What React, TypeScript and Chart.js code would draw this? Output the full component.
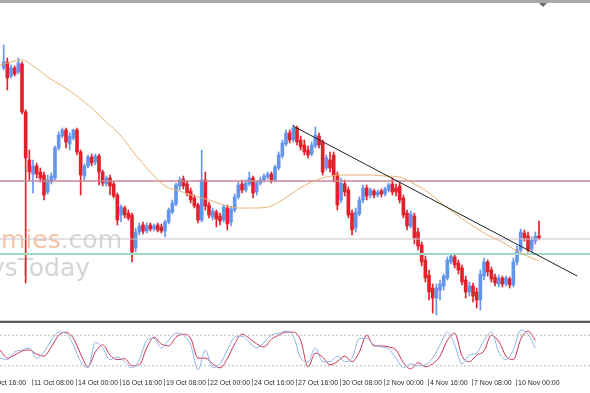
import React, { useEffect, useRef } from "react";
import { Chart, registerables } from "chart.js";

Chart.register(...registerables);

// ---------- DATA ----------
// time-axis tick labels and the bar index each one sits at
const timeLabels = [
  "8 Oct 16:00", "11 Oct 08:00", "14 Oct 00:00", "16 Oct 16:00", "19 Oct 08:00",
  "22 Oct 00:00", "24 Oct 16:00", "27 Oct 16:00", "30 Oct 08:00", "2 Nov 00:00",
  "4 Nov 16:00", "7 Nov 08:00", "10 Nov 00:00",
];
const timeLabelIdx = [-4, 8, 20, 32, 44, 56, 68, 80, 92, 104, 116, 128, 140];

// candle prices, in 1/10000 (e.g. 13236 = 1.3236)
const openPts = [
  13236, 13242, 13228, 13236, 13232, 13240, 13192, 13144, 13130, 13138,
  13132, 13129, 13112, 13122, 13126, 13156, 13168, 13174, 13160, 13166,
  13174, 13152, 13128, 13138, 13147, 13142, 13148, 13132, 13120, 13126,
  13120, 13109, 13089, 13096, 13091, 13089, 13056, 13072, 13079, 13073,
  13079, 13075, 13079, 13077, 13073, 13082, 13092, 13100, 13118, 13125,
  13120, 13113, 13106, 13099, 13084, 13124, 13099, 13087, 13092, 13088,
  13084, 13096, 13082, 13094, 13107, 13120, 13114, 13120, 13126, 13112,
  13121, 13124, 13127, 13130, 13124, 13136, 13148, 13160, 13171, 13164,
  13176, 13164, 13159, 13154, 13150, 13158, 13168, 13162, 13136, 13144,
  13149, 13129, 13104, 13120, 13114, 13091, 13076, 13090, 13104, 13116,
  13109, 13113, 13109, 13113, 13110, 13114, 13120, 13116, 13118, 13106,
  13091, 13078, 13088, 13072, 13059, 13044, 13029, 13016, 13006, 13014,
  13018, 13026, 13042, 13047, 13041, 13036, 13024, 13012, 13018, 13012,
  13004, 13028, 13042, 13034, 13027, 13020, 13026, 13020, 13025, 13019,
  13042, 13054, 13071, 13068, 13055, 13063, 13068,
];
const highPts = [
  13259, 13246, 13239, 13238, 13246, 13242, 13194, 13154, 13144, 13141,
  13136, 13132, 13129, 13131, 13158, 13172, 13176, 13176, 13171, 13175,
  13176, 13154, 13140, 13149, 13150, 13150, 13150, 13134, 13128, 13129,
  13122, 13111, 13099, 13098, 13094, 13091, 13076, 13081, 13082, 13081,
  13081, 13080, 13081, 13080, 13084, 13096, 13104, 13121, 13127, 13128,
  13123, 13116, 13109, 13101, 13154, 13132, 13102, 13096, 13094, 13091,
  13099, 13099, 13098, 13110, 13122, 13124, 13124, 13132, 13128, 13123,
  13127, 13130, 13132, 13132, 13139, 13152, 13164, 13174, 13174, 13179,
  13178, 13168, 13164, 13158, 13162, 13177, 13171, 13164, 13149, 13152,
  13152, 13132, 13126, 13124, 13117, 13094, 13096, 13107, 13119, 13119,
  13116, 13115, 13114, 13115, 13117, 13121, 13126, 13120, 13121, 13109,
  13094, 13093, 13091, 13076, 13062, 13048, 13034, 13020, 13020, 13024,
  13030, 13047, 13050, 13050, 13044, 13039, 13028, 13022, 13021, 13016,
  13034, 13046, 13044, 13037, 13030, 13029, 13028, 13028, 13027, 13046,
  13058, 13075, 13074, 13072, 13067, 13072, 13083,
];
const lowPts = [
  13234, 13214, 13226, 13228, 13230, 13190, 13021, 13124, 13111, 13126,
  13122, 13104, 13110, 13120, 13124, 13154, 13166, 13156, 13154, 13164,
  13149, 13109, 13124, 13136, 13138, 13139, 13119, 13118, 13118, 13109,
  13106, 13079, 13082, 13086, 13084, 13042, 13052, 13069, 13070, 13071,
  13073, 13073, 13072, 13071, 13067, 13080, 13090, 13098, 13114, 13115,
  13108, 13101, 13096, 13081, 13082, 13094, 13086, 13084, 13077, 13079,
  13082, 13074, 13078, 13092, 13105, 13111, 13112, 13118, 13106, 13109,
  13119, 13122, 13125, 13121, 13122, 13134, 13146, 13158, 13161, 13162,
  13159, 13154, 13149, 13146, 13148, 13156, 13156, 13129, 13134, 13132,
  13122, 13094, 13101, 13108, 13086, 13069, 13072, 13088, 13101, 13104,
  13106, 13106, 13107, 13107, 13108, 13112, 13109, 13108, 13101, 13086,
  13074, 13076, 13060, 13054, 13038, 13022, 13004, 12991, 12989, 13004,
  13014, 13024, 13040, 13036, 13030, 13019, 13006, 13008, 13002, 12996,
  12994, 13024, 13028, 13022, 13018, 13017, 13017, 13018, 13016, 13017,
  13039, 13052, 13063, 13052, 13052, 13060, 13064,
];
const closePts = [
  13242, 13226, 13236, 13230, 13241, 13192, 13146, 13132, 13138, 13130,
  13126, 13109, 13124, 13128, 13156, 13169, 13174, 13162, 13168, 13174,
  13152, 13129, 13138, 13147, 13141, 13148, 13132, 13121, 13126, 13118,
  13108, 13084, 13097, 13089, 13086, 13052, 13072, 13078, 13073, 13078,
  13075, 13078, 13074, 13073, 13082, 13094, 13101, 13119, 13124, 13118,
  13111, 13104, 13098, 13084, 13124, 13098, 13089, 13093, 13085, 13083,
  13097, 13080, 13095, 13107, 13119, 13114, 13121, 13126, 13111, 13121,
  13124, 13128, 13130, 13124, 13137, 13149, 13161, 13171, 13164, 13176,
  13162, 13157, 13152, 13149, 13159, 13169, 13159, 13132, 13146, 13136,
  13129, 13099, 13121, 13112, 13089, 13074, 13092, 13104, 13116, 13108,
  13114, 13109, 13112, 13110, 13115, 13119, 13112, 13112, 13104, 13089,
  13078, 13090, 13066, 13058, 13042, 13026, 13012, 13006, 13016, 13020,
  13028, 13044, 13048, 13039, 13034, 13022, 13012, 13018, 13008, 13004,
  13030, 13042, 13032, 13025, 13021, 13026, 13020, 13026, 13019, 13042,
  13054, 13072, 13066, 13054, 13064, 13068, 13066,
];

// moving average (orange), read at these bar indices
const maIdx = [
  -1, 5, 8, 12, 16, 20, 24, 28, 32, 36, 40, 44, 48, 52, 56, 60, 64, 68, 72,
  76, 80, 84, 88, 92, 96, 100, 104, 108, 112, 116, 120, 124, 128, 132, 136, 140, 144, 146,
];
const maPts = [
  13239, 13244, 13238, 13227, 13218, 13208, 13196, 13182, 13168, 13149, 13132,
  13118, 13113, 13108, 13104, 13099, 13096, 13096, 13097, 13104, 13114, 13122,
  13127, 13129, 13129, 13129, 13128, 13127, 13120, 13111, 13099, 13088, 13078,
  13069, 13062, 13053, 13046, 13043,
];

// drawn objects
const trendIdx = [78.9, 156.4];
const trendPts = [13178, 13028];
const resistancePts = 13123;
const midLevelPts = 13065;
const supportPts = 13050;

// stochastic oscillator, one value every second bar from index -1
const stochK = [
  35, 32, 47, 51, 55, 35, 47, 70, 86, 84, 61, 28, 16, 66, 55, 32, 37, 28, 16, 32,
  70, 74, 55, 70, 84, 80, 61, 12, 51, 16, 24, 51, 76, 78, 66, 55, 66, 80, 84, 88,
  78, 35, 28, 55, 28, 28, 39, 28, 35, 74, 74, 61, 57, 53, 35, 16, 24, 20, 22, 35,
  61, 86, 61, 24, 41, 45, 70, 86, 47, 32, 51, 90, 82, 55,
];
const stochD = [
  51, 35, 41, 49, 51, 43, 39, 57, 80, 86, 74, 43, 18, 47, 61, 41, 32, 34, 20, 22,
  55, 76, 63, 59, 76, 82, 74, 35, 35, 24, 16, 34, 63, 82, 74, 63, 57, 72, 80, 86,
  86, 70, 18, 45, 37, 22, 28, 39, 28, 47, 80, 59, 59, 57, 51, 26, 14, 26, 18, 24,
  39, 70, 84, 39, 28, 41, 49, 80, 68, 39, 32, 72, 88, 70,
];
const stochUpper = 80;
const stochLower = 20;

// ---------- LAYOUT / STYLE ----------
const W = 590;
const H = 393;
const MAIN_H = 324;
const SUB_TOP = 324;
const SUB_H = H - SUB_TOP;
const X_MIN = -1;
const X_MAX = 159.9;
const Y_MIN = 1.2986;
const Y_MAX = 1.33;
const BULL = "#6495ED";
const BEAR = "#E3212B";

const price = (p: number) => p / 10000;

const mainDecor = {
  id: "mainDecor",
  beforeDatasetsDraw(chart: any) {
    const ctx = chart.ctx;
    ctx.save();
    ctx.font = '25px "DejaVu Sans", sans-serif';
    ctx.textBaseline = "alphabetic";
    ctx.textAlign = "right";
    ctx.fillStyle = "#d6d6d6";
    ctx.fillText(".com", 122, 248);
    const w = ctx.measureText(".com").width;
    ctx.fillStyle = "#f5c5aa";
    ctx.fillText("Economies", 122 - w, 248);
    ctx.fillStyle = "#d4d4d4";
    ctx.fillText("ysToday", 90, 276);
    ctx.restore();
  },
  afterDraw(chart: any) {
    const ctx = chart.ctx;
    ctx.save();
    ctx.fillStyle = "#a8a8a8";
    ctx.fillRect(0, 0, W, 3);
    ctx.fillStyle = "#6a6a6a";
    ctx.beginPath();
    ctx.moveTo(539, 3);
    ctx.lineTo(547, 3);
    ctx.lineTo(543, 7);
    ctx.closePath();
    ctx.fill();
    ctx.fillStyle = "#cfcfcf";
    ctx.fillRect(0, 320, W, 1);
    ctx.fillStyle = "#5a5a5a";
    ctx.fillRect(0, 321, W, 2);
    ctx.restore();
  },
};

const timeAxis = {
  id: "timeAxis",
  afterDraw(chart: any) {
    const ctx = chart.ctx;
    const xs = chart.scales.x;
    ctx.save();
    ctx.font = '7px "Liberation Sans", Arial, sans-serif';
    ctx.textBaseline = "middle";
    ctx.textAlign = "left";
    timeLabelIdx.forEach((idx, k) => {
      const px = Math.round(xs.getPixelForValue(idx));
      ctx.fillStyle = "#8a8a8a";
      ctx.fillRect(px - 1, 55, 1, 7);
      ctx.fillStyle = "#2b2b2b";
      ctx.fillText(timeLabels[k], px + 1, 59);
    });
    ctx.restore();
  },
};

export default function App() {
  const mainRef = useRef<HTMLCanvasElement>(null);
  const subRef = useRef<HTMLCanvasElement>(null);

  useEffect(() => {
    document.body.style.margin = "0";
    const candleColors = openPts.map((o, i) => (closePts[i] >= o ? BULL : BEAR));
    const hLine = (p: number) => [
      { x: X_MIN, y: price(p) },
      { x: X_MAX, y: price(p) },
    ];

    const main = new Chart(mainRef.current as HTMLCanvasElement, {
      type: "bar",
      data: {
        datasets: [
          {
            type: "line",
            label: "Resistance",
            data: hLine(resistancePts),
            borderColor: "#c98795",
            borderWidth: 1.5,
            pointRadius: 0,
            order: 1,
          },
          {
            type: "line",
            label: "Level",
            data: hLine(midLevelPts),
            borderColor: "#c9c1cc",
            borderWidth: 1,
            pointRadius: 0,
            order: 1,
          },
          {
            type: "line",
            label: "Support",
            data: hLine(supportPts),
            borderColor: "#9fd8c5",
            borderWidth: 2,
            pointRadius: 0,
            order: 1,
          },
          {
            type: "line",
            label: "Trend line",
            data: trendIdx.map((x, k) => ({ x, y: price(trendPts[k]) })),
            borderColor: "#1e1e1e",
            borderWidth: 1,
            pointRadius: 0,
            order: 0,
          },
          {
            type: "line",
            label: "MA",
            data: maIdx.map((x, k) => ({ x, y: price(maPts[k]) })),
            borderColor: "#e8b273",
            borderWidth: 1,
            pointRadius: 0,
            cubicInterpolationMode: "monotone",
            order: 0,
          },
          {
            type: "bar",
            label: "Wick",
            data: openPts.map((_, i) => ({ x: i, y: [price(lowPts[i]), price(highPts[i])] })),
            backgroundColor: candleColors,
            barThickness: 1,
            grouped: false,
            borderWidth: 0,
            order: 3,
          },
          {
            type: "bar",
            label: "Body",
            data: openPts.map((o, i) => ({ x: i, y: [price(o), price(closePts[i])] })),
            backgroundColor: candleColors,
            barThickness: 3,
            minBarLength: 1,
            grouped: false,
            borderWidth: 0,
            order: 2,
          },
        ] as any,
      },
      options: {
        responsive: false,
        animation: false,
        devicePixelRatio: 1,
        events: [],
        layout: { padding: { top: 4, bottom: 6, left: 0, right: 0 } },
        plugins: { legend: { display: false }, tooltip: { enabled: false } },
        scales: {
          x: { type: "linear", min: X_MIN, max: X_MAX, display: false, offset: false },
          y: { type: "linear", min: Y_MIN, max: Y_MAX, display: false },
        },
      } as any,
      plugins: [mainDecor],
    });

    const stochIdx = stochD.map((_, k) => 2 * k - 1);
    const sub = new Chart(subRef.current as HTMLCanvasElement, {
      type: "line",
      data: {
        datasets: [
          {
            label: "80",
            data: [{ x: X_MIN, y: stochUpper }, { x: X_MAX, y: stochUpper }],
            borderColor: "#b8b8b8",
            borderWidth: 1,
            borderDash: [2, 2],
            pointRadius: 0,
          },
          {
            label: "20",
            data: [{ x: X_MIN, y: stochLower }, { x: X_MAX, y: stochLower }],
            borderColor: "#b8b8b8",
            borderWidth: 1,
            borderDash: [2, 2],
            pointRadius: 0,
          },
          {
            label: "%K",
            data: stochIdx.map((x, k) => ({ x, y: stochK[k] })),
            borderColor: "#8fb3e8",
            borderWidth: 1,
            pointRadius: 0,
            cubicInterpolationMode: "monotone",
          },
          {
            label: "%D",
            data: stochIdx.map((x, k) => ({ x, y: stochD[k] })),
            borderColor: "#cf2f52",
            borderWidth: 1,
            pointRadius: 0,
            cubicInterpolationMode: "monotone",
          },
        ] as any,
      },
      options: {
        responsive: false,
        animation: false,
        devicePixelRatio: 1,
        events: [],
        layout: { padding: { top: 1, bottom: 17, left: 0, right: 0 } },
        plugins: { legend: { display: false }, tooltip: { enabled: false } },
        scales: {
          x: { type: "linear", min: X_MIN, max: X_MAX, display: false, offset: false },
          y: { type: "linear", min: 0, max: 100, display: false },
        },
      } as any,
      plugins: [timeAxis],
    });

    return () => {
      main.destroy();
      sub.destroy();
    };
  }, []);

  return (
    <div style={{ position: "relative", width: W, height: H, background: "#fff", overflow: "hidden" }}>
      <canvas ref={mainRef} width={W} height={MAIN_H} style={{ position: "absolute", left: 0, top: 0 }} />
      <canvas ref={subRef} width={W} height={SUB_H} style={{ position: "absolute", left: 0, top: SUB_TOP }} />
    </div>
  );
}
